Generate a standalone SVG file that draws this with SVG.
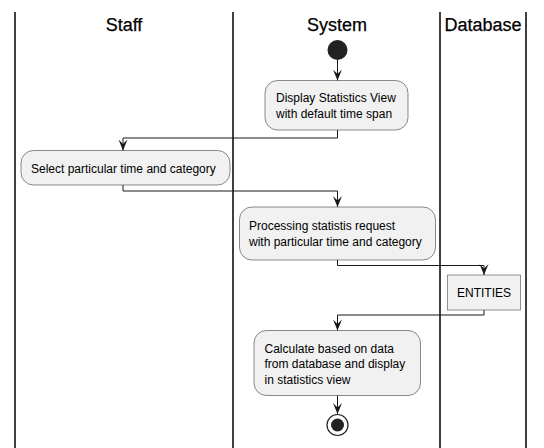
<svg xmlns="http://www.w3.org/2000/svg" width="544" height="448" viewBox="0 0 544 448">
<defs>
<style>
.lane{stroke:#000;stroke-width:1.5;fill:none}
.title{font-family:"Liberation Sans",Arial,sans-serif;font-size:18px;fill:#000;text-anchor:middle;stroke:#000;stroke-width:0.25}
.act{fill:#F1F1F1;stroke:#181818;stroke-width:0.5}
.t{font-family:"Liberation Sans",Arial,sans-serif;font-size:12px;fill:#000}
.edge{stroke:#181818;stroke-width:1;fill:none}
</style>
<marker id="arr" viewBox="0 0 11 10" refX="11" refY="5" markerWidth="11" markerHeight="10" orient="auto" markerUnits="userSpaceOnUse">
<path d="M11,5 L0,0.5 L4.5,5 L0,9.5 Z" fill="#181818"/>
</marker>
</defs>
<rect width="544" height="448" fill="#fff"/>
<g id="lanes">
<line class="lane" x1="15" y1="12" x2="15" y2="448"/>
<line class="lane" x1="233" y1="12" x2="233" y2="448"/>
<line class="lane" x1="440" y1="12" x2="440" y2="448"/>
<line class="lane" x1="526" y1="12" x2="526" y2="448"/>
<text class="title" x="124" y="31">Staff</text>
<text class="title" x="337" y="31">System</text>
<text class="title" x="483" y="31">Database</text>
</g>
<g id="start"><circle cx="337.5" cy="50" r="10" fill="#222"/></g>
<g id="display">
<rect class="act" x="265" y="80.5" width="143" height="49.5" rx="12.5"/>
<text class="t" x="276" y="102">Display Statistics View</text>
<text class="t" x="276" y="118">with default time span</text>
</g>
<g id="select">
<rect class="act" x="21" y="150.5" width="209" height="34.5" rx="12.5"/>
<text class="t" x="31" y="172.5">Select particular time and category</text>
</g>
<g id="processing">
<rect class="act" x="239.5" y="207" width="196" height="53" rx="12.5"/>
<text class="t" x="249" y="230">Processing statistis request</text>
<text class="t" x="249" y="246">with particular time and category</text>
</g>
<g id="entities">
<rect x="447.5" y="275" width="73" height="35" fill="#F1F1F1" stroke="#777" stroke-width="0.8"/>
<text class="t" x="484" y="297" text-anchor="middle">ENTITIES</text>
</g>
<g id="calculate">
<rect class="act" x="254" y="330.5" width="166.5" height="65" rx="12.5"/>
<text class="t" x="264.5" y="352.5">Calculate based on data</text>
<text class="t" x="264.5" y="368">from database and display</text>
<text class="t" x="264.5" y="383.5">in statistics view</text>
</g>
<g id="end">
<circle cx="337.5" cy="425" r="10.5" fill="none" stroke="#222" stroke-width="1.2"/>
<circle cx="337.5" cy="425" r="6.5" fill="#222"/>
</g>
<g id="connectors">
<path class="edge" marker-end="url(#arr)" d="M337.5,60 L337.5,80.5"/>
<path class="edge" marker-end="url(#arr)" d="M337.5,130 L337.5,138 L123,138 L123,150.5"/>
<path class="edge" marker-end="url(#arr)" d="M123,185 L123,191 L337.5,191 L337.5,207"/>
<path class="edge" marker-end="url(#arr)" d="M337.5,260 L337.5,265.5 L484,265.5 L484,275"/>
<path class="edge" marker-end="url(#arr)" d="M484,310 L484,315 L337.5,315 L337.5,330.5"/>
<path class="edge" marker-end="url(#arr)" d="M337.5,395.5 L337.5,414"/>
</g>
</svg>
